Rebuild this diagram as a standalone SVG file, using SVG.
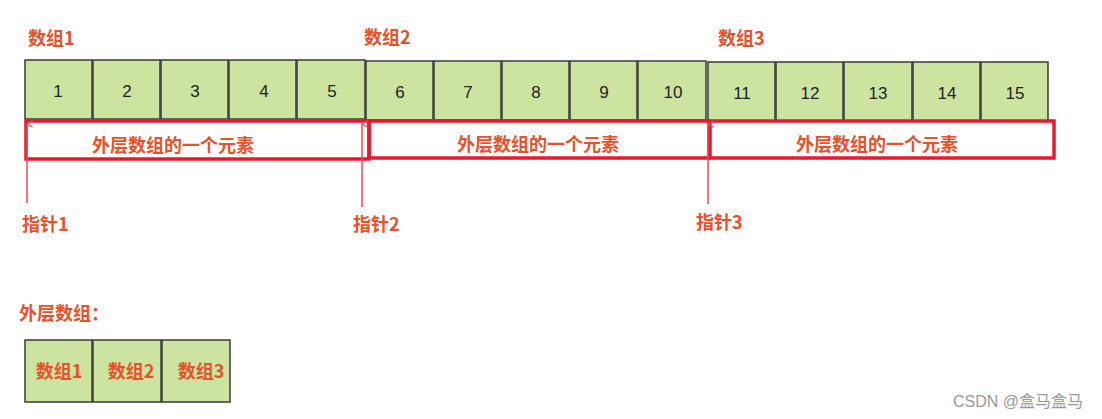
<svg xmlns="http://www.w3.org/2000/svg" width="1102" height="419" viewBox="0 0 1102 419">
<defs>
<style>
.cell{fill:#cce4a0;stroke:#3a3a3a;stroke-width:1.5}
.num{font-family:"Liberation Sans",sans-serif;font-size:17px;fill:#222;text-anchor:middle}
.lbl{font-family:"Noto Sans CJK SC","Liberation Sans",sans-serif;font-weight:bold;font-size:18px;fill:#e9502b}
.mid{text-anchor:middle}
.box{fill:none;stroke:#e8192c;stroke-width:3.5}
.ptr{stroke:#ee4a5a;stroke-width:1.5;fill:none}
</style>
<marker id="ah" viewBox="0 0 10 10" refX="5" refY="1" markerWidth="8" markerHeight="8" orient="auto-start-reverse" markerUnits="userSpaceOnUse">
<path d="M1,8 L5,1 L9,8" fill="none" stroke="#ee4a5a" stroke-width="1.5"/>
</marker>
</defs>
<rect width="1102" height="419" fill="#fff"/>

<g id="labels-top">
<text class="lbl" x="28" y="45">数组1</text>
<text class="lbl" x="364" y="44">数组2</text>
<text class="lbl" x="718" y="45">数组3</text>
</g>

<g id="array1">
<rect class="cell" x="25" y="60" width="67" height="59"/><text class="num" x="58" y="97">1</text>
<rect class="cell" x="93" y="60" width="67" height="59"/><text class="num" x="127" y="97">2</text>
<rect class="cell" x="161" y="60" width="67" height="59"/><text class="num" x="195" y="97">3</text>
<rect class="cell" x="229" y="60" width="67" height="59"/><text class="num" x="264" y="97">4</text>
<rect class="cell" x="297" y="60" width="68" height="59"/><text class="num" x="332" y="97">5</text>
</g>
<g id="array2">
<rect class="cell" x="366" y="61" width="67" height="59"/><text class="num" x="400" y="98">6</text>
<rect class="cell" x="434" y="61" width="67" height="59"/><text class="num" x="468" y="98">7</text>
<rect class="cell" x="502" y="61" width="67" height="59"/><text class="num" x="536" y="98">8</text>
<rect class="cell" x="570" y="61" width="67" height="59"/><text class="num" x="604" y="98">9</text>
<rect class="cell" x="638" y="61" width="68" height="59"/><text class="num" x="673" y="98">10</text>
</g>
<g id="array3">
<rect class="cell" x="708" y="62" width="67" height="59"/><text class="num" x="742" y="99">11</text>
<rect class="cell" x="776" y="62" width="67" height="59"/><text class="num" x="810" y="99">12</text>
<rect class="cell" x="844" y="62" width="68" height="59"/><text class="num" x="878" y="99">13</text>
<rect class="cell" x="913" y="62" width="67" height="59"/><text class="num" x="947" y="99">14</text>
<rect class="cell" x="981" y="62" width="67" height="59"/><text class="num" x="1015" y="99">15</text>
</g>

<g id="elements">
<rect class="box" x="26" y="121" width="343" height="38"/>
<text class="lbl mid" x="173" y="152">外层数组的一个元素</text>
<rect class="box" x="369" y="121" width="340" height="37"/>
<text class="lbl mid" x="538" y="151">外层数组的一个元素</text>
<rect class="box" x="710" y="121" width="344" height="37"/>
<text class="lbl mid" x="877" y="151">外层数组的一个元素</text>
</g>

<g id="connectors">
<line class="ptr" x1="27" y1="203" x2="27" y2="124" marker-end="url(#ah)"/>
<line class="ptr" x1="362" y1="207" x2="362" y2="124" marker-end="url(#ah)"/>
<line class="ptr" x1="708" y1="204" x2="708" y2="124" marker-end="url(#ah)"/>
</g>

<g id="pointers">
<text class="lbl" x="22" y="231">指针1</text>
<text class="lbl" x="353" y="231">指针2</text>
<text class="lbl" x="696" y="229">指针3</text>
</g>

<g id="outer">
<text class="lbl" x="19" y="320">外层数组：</text>
<rect class="cell" x="25" y="340" width="67" height="62"/><text class="lbl mid" x="59" y="378">数组1</text>
<rect class="cell" x="93" y="340" width="68" height="62"/><text class="lbl mid" x="131" y="378">数组2</text>
<rect class="cell" x="162" y="340" width="68" height="62"/><text class="lbl mid" x="201" y="378">数组3</text>
</g>

<text x="953" y="407" font-family="Liberation Sans,Noto Sans CJK SC,sans-serif" font-size="16" fill="#999">CSDN @盒马盒马</text>
</svg>
